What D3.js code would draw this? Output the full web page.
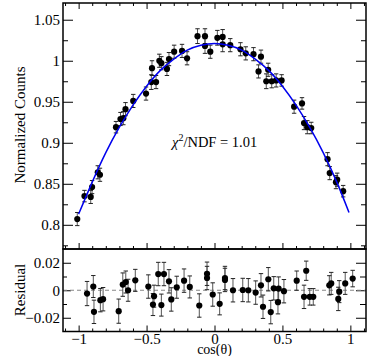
<!DOCTYPE html>
<html lang="en">
<head>
<meta charset="UTF-8">
<title>Normalized counts vs cos(theta)</title>
<script src="https://cdn.jsdelivr.net/npm/d3@7/dist/d3.min.js"></script>
<style>
  body { margin: 0; background: #fff; }
  svg { display: block; }
  text { font-family: "Liberation Serif", "Times New Roman", serif; }
</style>
</head>
<body>
<svg id="chart" width="374" height="356"></svg>
<script>
// measured points, upper panel
var cosTop = [-1.010, -0.957, -0.911, -0.901, -0.859, -0.843, -0.725, -0.692, -0.671, -0.655,
              -0.598, -0.504, -0.465, -0.460, -0.430, -0.406, -0.391, -0.350, -0.335, -0.297,
              -0.239, -0.202, -0.125, -0.070, -0.070, -0.031, 0.021, 0.060, 0.060, 0.116,
              0.191, 0.230, 0.287, 0.324, 0.342, 0.381, 0.395, 0.421, 0.454, 0.494,
              0.586, 0.644, 0.659, 0.683, 0.712, 0.832, 0.848, 0.894, 0.903, 0.947];
var normCounts = [0.807, 0.835, 0.834, 0.846, 0.864, 0.861, 0.919, 0.929, 0.930, 0.941,
                  0.951, 0.960, 0.974, 0.991, 0.974, 1.000, 0.997, 0.990, 1.002, 1.011,
                  1.012, 1.003, 1.030, 1.030, 1.018, 1.011, 1.028, 1.029, 1.020, 1.019,
                  1.014, 1.009, 1.008, 0.987, 1.005, 0.975, 0.989, 0.975, 0.976, 0.976,
                  0.944, 0.948, 0.924, 0.919, 0.918, 0.880, 0.863, 0.852, 0.855, 0.841];
var normErr = [0.008, 0.007, 0.008, 0.008, 0.008, 0.008, 0.007, 0.008, 0.008, 0.008,
               0.008, 0.008, 0.009, 0.009, 0.008, 0.008, 0.008, 0.008, 0.008, 0.008,
               0.008, 0.008, 0.009, 0.009, 0.009, 0.008, 0.009, 0.009, 0.009, 0.008,
               0.008, 0.008, 0.008, 0.008, 0.008, 0.009, 0.008, 0.008, 0.008, 0.007,
               0.008, 0.007, 0.008, 0.008, 0.007, 0.008, 0.008, 0.008, 0.008, 0.007];

// fit curve
var fitCos = [-1.0, -0.9, -0.8, -0.7, -0.6, -0.5, -0.4, -0.3, -0.2, -0.1, 0,
              0.1, 0.2, 0.3, 0.4, 0.5, 0.6, 0.7, 0.8, 0.9, 0.99];
var fitVal = [0.813, 0.852, 0.888, 0.919, 0.946, 0.969, 0.988, 1.002, 1.013, 1.019, 1.021,
              1.019, 1.013, 1.002, 0.988, 0.969, 0.946, 0.919, 0.888, 0.852, 0.815];

// residual panel
var cosRes = [-0.938, -0.892, -0.887, -0.840, -0.820, -0.705, -0.675, -0.653, -0.636, -0.583,
              -0.487, -0.453, -0.445, -0.414, -0.391, -0.372, -0.335, -0.318, -0.278, -0.224,
              -0.182, -0.112, -0.055, -0.055, -0.013, 0.038, 0.077, 0.077, 0.136, 0.208,
              0.249, 0.303, 0.342, 0.357, 0.396, 0.414, 0.436, 0.467, 0.472, 0.511,
              0.605, 0.659, 0.675, 0.701, 0.727, 0.845, 0.859, 0.911, 0.918, 0.962, 1.017];
var residual = [-0.0024, 0.0027, -0.0157, -0.0072, -0.0065, -0.0152, 0.0041, 0.0060, 0.0000, 0.0072,
                0.0027, -0.0104, -0.0043, 0.0118, -0.0108, 0.0118, 0.0065, -0.0067, 0.0022, 0.0070,
                0.0024, -0.0111, 0.0120, 0.0089, -0.0031, -0.0099, 0.0089, 0.0075, 0.0000, 0.0002,
                0.0000, -0.0017, 0.0036, -0.0120, 0.0080, -0.0159, 0.0014, -0.0087, 0.0012, -0.0007,
                0.0070, -0.0048, 0.0142, -0.0048, -0.0048, 0.0036, 0.0050, -0.0063, -0.0010, 0.0050, 0.0085];
var resErr = [0.0088, 0.0080, 0.0085, 0.0085, 0.0085, 0.0088, 0.0085, 0.0080, 0.0080, 0.0080,
              0.0085, 0.0080, 0.0080, 0.0085, 0.0080, 0.0085, 0.0085, 0.0085, 0.0080, 0.0085,
              0.0080, 0.0085, 0.0085, 0.0085, 0.0085, 0.0080, 0.0085, 0.0085, 0.0085, 0.0085,
              0.0085, 0.0085, 0.0085, 0.0085, 0.0085, 0.0085, 0.0085, 0.0085, 0.0085, 0.0085,
              0.0070, 0.0085, 0.0070, 0.0060, 0.0060, 0.0070, 0.0080, 0.0085, 0.0080, 0.0080, 0.0060];

// ticks
var xMajor = [-1, -0.5, 0, 0.5, 1];
var xMinor = [-1.1, -0.9, -0.8, -0.7, -0.6, -0.4, -0.3, -0.2, -0.1, 0.1, 0.2, 0.3, 0.4, 0.6, 0.7, 0.8, 0.9, 1.1];
var yTopMajor = [0.8, 0.85, 0.9, 0.95, 1, 1.05];
var yTopMinor = [0.775, 0.825, 0.875, 0.925, 0.975, 1.025];
var yResMajor = [-0.02, 0, 0.02];
var yResMinor = [-0.01, 0.01];

var svg = d3.select("#chart");
var L = 63, R = 366, T = 3, MID = 249, B = 331.5;

var x = d3.scaleLinear().domain([-1.115, 1.115]).range([L, R]);
var yTop = d3.scaleLinear().domain([0.7705, 1.0704]).range([MID, T]);
var yRes = d3.scaleLinear().domain([-0.03, 0.03]).range([B, MID]);

var fmt = function(d) { return String(d).replace("-", "\u2212"); };

function styleAxis(g) {
    g.select(".domain").remove();
    g.selectAll("line").attr("stroke", "#000").attr("stroke-width", 1);
    g.selectAll("text").attr("font-family", "'Liberation Serif', 'Times New Roman', serif")
        .attr("font-size", 15).attr("fill", "#000");
}

// ---- top panel ticks
svg.append("g").attr("transform", "translate(" + L + ",0)")
    .call(d3.axisLeft(yTop).tickValues(yTopMajor).tickSize(-10).tickPadding(3).tickFormat(fmt))
    .call(styleAxis);
svg.append("g").attr("transform", "translate(" + L + ",0)")
    .call(d3.axisLeft(yTop).tickValues(yTopMinor).tickSize(-5).tickFormat(""))
    .call(styleAxis);
svg.append("g").attr("transform", "translate(" + R + ",0)")
    .call(d3.axisRight(yTop).tickValues(yTopMajor).tickSize(-10).tickFormat(""))
    .call(styleAxis);
svg.append("g").attr("transform", "translate(" + R + ",0)")
    .call(d3.axisRight(yTop).tickValues(yTopMinor).tickSize(-5).tickFormat(""))
    .call(styleAxis);
svg.append("g").attr("transform", "translate(0," + T + ")")
    .call(d3.axisTop(x).tickValues(xMajor).tickSize(-6).tickFormat(""))
    .call(styleAxis);
svg.append("g").attr("transform", "translate(0," + T + ")")
    .call(d3.axisTop(x).tickValues(xMinor).tickSize(-3).tickFormat(""))
    .call(styleAxis);
svg.append("g").attr("transform", "translate(0," + MID + ")")
    .call(d3.axisBottom(x).tickValues(xMajor).tickSize(-6).tickFormat(""))
    .call(styleAxis);
svg.append("g").attr("transform", "translate(0," + MID + ")")
    .call(d3.axisBottom(x).tickValues(xMinor).tickSize(-3).tickFormat(""))
    .call(styleAxis);

// ---- residual panel ticks
svg.append("g").attr("transform", "translate(" + L + ",0)")
    .call(d3.axisLeft(yRes).tickValues(yResMajor).tickSize(-8).tickPadding(3).tickFormat(fmt))
    .call(styleAxis);
svg.append("g").attr("transform", "translate(" + L + ",0)")
    .call(d3.axisLeft(yRes).tickValues(yResMinor).tickSize(-4).tickFormat(""))
    .call(styleAxis);
svg.append("g").attr("transform", "translate(" + R + ",0)")
    .call(d3.axisRight(yRes).tickValues(yResMajor).tickSize(-10).tickFormat(""))
    .call(styleAxis);
svg.append("g").attr("transform", "translate(" + R + ",0)")
    .call(d3.axisRight(yRes).tickValues(yResMinor).tickSize(-6).tickFormat(""))
    .call(styleAxis);
svg.append("g").attr("transform", "translate(0," + B + ")")
    .call(d3.axisBottom(x).tickValues(xMajor).tickSize(-6).tickPadding(2).tickFormat(fmt))
    .call(styleAxis);
svg.append("g").attr("transform", "translate(0," + B + ")")
    .call(d3.axisBottom(x).tickValues(xMinor).tickSize(-3).tickFormat(""))
    .call(styleAxis);

// zero line in residual panel
svg.append("line")
    .attr("x1", L).attr("x2", R).attr("y1", yRes(0)).attr("y2", yRes(0))
    .attr("stroke", "#888").attr("stroke-width", 1.2).attr("stroke-dasharray", "4,3");

// ---- error bars + points
function drawPoints(xs, ys, es, yScale) {
    var g = svg.append("g");
    var idx = d3.range(xs.length);
    g.selectAll("line.bar").data(idx).enter().append("line")
        .attr("x1", function(i) { return x(xs[i]); })
        .attr("x2", function(i) { return x(xs[i]); })
        .attr("y1", function(i) { return yScale(ys[i] - es[i]); })
        .attr("y2", function(i) { return yScale(ys[i] + es[i]); })
        .attr("stroke", "#555").attr("stroke-width", 1);
    [-1, 1].forEach(function(s) {
        g.selectAll(null).data(idx).enter().append("line")
            .attr("x1", function(i) { return x(xs[i]) - 2.2; })
            .attr("x2", function(i) { return x(xs[i]) + 2.2; })
            .attr("y1", function(i) { return yScale(ys[i] + s * es[i]); })
            .attr("y2", function(i) { return yScale(ys[i] + s * es[i]); })
            .attr("stroke", "#222").attr("stroke-width", 1);
    });
    g.selectAll("circle").data(idx).enter().append("circle")
        .attr("cx", function(i) { return x(xs[i]); })
        .attr("cy", function(i) { return yScale(ys[i]); })
        .attr("r", 3.1).attr("fill", "#000");
}

drawPoints(cosTop, normCounts, normErr, yTop);
drawPoints(cosRes, residual, resErr, yRes);

// fit curve
var line = d3.line()
    .x(function(i) { return x(fitCos[i]); })
    .y(function(i) { return yTop(fitVal[i]); })
    .curve(d3.curveNatural);
svg.append("path").datum(d3.range(fitCos.length))
    .attr("d", line).attr("fill", "none").attr("stroke", "#0000ee").attr("stroke-width", 1.5);

// frames
svg.append("rect").attr("x", L).attr("y", T).attr("width", R - L).attr("height", MID - T)
    .attr("fill", "none").attr("stroke", "#000").attr("stroke-width", 1.5);
svg.append("rect").attr("x", L).attr("y", MID).attr("width", R - L).attr("height", B - MID)
    .attr("fill", "none").attr("stroke", "#000").attr("stroke-width", 1.5);

// labels
var chi = svg.append("text").attr("x", 172).attr("y", 147).attr("font-size", 14.5);
chi.append("tspan").attr("font-style", "italic").text("\u03c7");
chi.append("tspan").attr("font-size", 10).attr("dy", -6).text("2");
chi.append("tspan").attr("dy", 6).text("/NDF = 1.01");

svg.append("text").attr("transform", "translate(25,125) rotate(-90)")
    .attr("text-anchor", "middle").attr("font-size", 15).text("Normalized Counts");
svg.append("text").attr("transform", "translate(25,290) rotate(-90)")
    .attr("text-anchor", "middle").attr("font-size", 15).text("Residual");
svg.append("text").attr("x", 214.5).attr("y", 354)
    .attr("text-anchor", "middle").attr("font-size", 14).text("cos(\u03b8)");
</script>
</body>
</html>
